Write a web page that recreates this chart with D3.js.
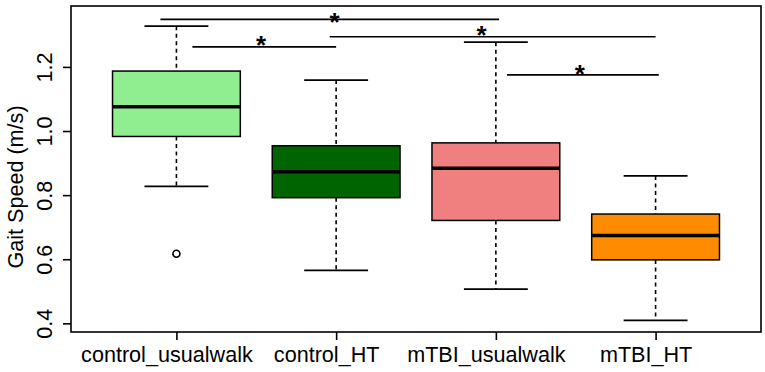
<!DOCTYPE html>
<html>
<head>
<meta charset="utf-8">
<script src="https://cdn.jsdelivr.net/npm/d3@7"></script>
<style>
  body { margin: 0; background: #fff; }
  svg { font-family: "Liberation Sans", Arial, sans-serif; }
</style>
</head>
<body>
<div id="chart"></div>
<script>
// box stats
var groups = ["control_usualwalk", "control_HT", "mTBI_usualwalk", "mTBI_HT"];
var fills = ["#90EE90", "#006400", "#F08080", "#FF8C00"];
var lowerWhisker = [0.827, 0.565, 0.507, 0.409];
var q1 = [0.983, 0.792, 0.721, 0.598];
var median = [1.076, 0.873, 0.884, 0.674];
var q3 = [1.187, 0.954, 0.963, 0.741];
var upperWhisker = [1.327, 1.159, 1.277, 0.86];
var outliers = [{ group: 1, value: 0.617 }];

var yTicks = [0.4, 0.6, 0.8, 1.0, 1.2];

// significance brackets (x in group units, y in m/s)
var sigFrom = [0.9, 1.1, 1.96, 3.07];
var sigTo = [3.02, 2.0, 4.0, 4.02];
var sigY = [1.348, 1.2625, 1.294, 1.175];
var starX = [1.99, 1.53, 2.91, 3.525];
var starY = [1.36, 1.287, 1.318, 1.196];

function chart() {
  var width = 765,
    height = 372;
  var plot = { left: 71, right: 761, top: 6, bottom: 332 };

  var svg = d3
    .select("#chart")
    .append("svg")
    .attr("width", width)
    .attr("height", height);

  var x = d3.scaleLinear().domain([0.34, 4.66]).range([plot.left, plot.right]);
  var y = d3.scaleLinear().domain([0.373, 1.39]).range([plot.bottom, plot.top]);

  var boxW = x(1.4) - x(1);
  var capW = x(1.2) - x(1);

  var boxes = groups.map(function (g, i) {
    return {
      name: g,
      pos: i + 1,
      fill: fills[i],
      lo: lowerWhisker[i],
      q1: q1[i],
      med: median[i],
      q3: q3[i],
      hi: upperWhisker[i],
    };
  });

  var g = svg.selectAll(".box").data(boxes).enter().append("g").attr("class", "box");

  // dashed whiskers
  g.append("line")
    .attr("x1", (d) => x(d.pos))
    .attr("x2", (d) => x(d.pos))
    .attr("y1", (d) => y(d.hi))
    .attr("y2", (d) => y(d.q3))
    .attr("stroke", "black")
    .attr("stroke-width", 1.6)
    .attr("stroke-dasharray", "4,3.5");
  g.append("line")
    .attr("x1", (d) => x(d.pos))
    .attr("x2", (d) => x(d.pos))
    .attr("y1", (d) => y(d.q1))
    .attr("y2", (d) => y(d.lo))
    .attr("stroke", "black")
    .attr("stroke-width", 1.6)
    .attr("stroke-dasharray", "4,3.5");

  // caps
  ["lo", "hi"].forEach(function (k) {
    g.append("line")
      .attr("x1", (d) => x(d.pos) - capW)
      .attr("x2", (d) => x(d.pos) + capW)
      .attr("y1", (d) => y(d[k]))
      .attr("y2", (d) => y(d[k]))
      .attr("stroke", "black")
      .attr("stroke-width", 1.7);
  });

  g.append("rect")
    .attr("x", (d) => x(d.pos) - boxW)
    .attr("y", (d) => y(d.q3))
    .attr("width", boxW * 2)
    .attr("height", (d) => y(d.q1) - y(d.q3))
    .attr("fill", (d) => d.fill)
    .attr("stroke", "black")
    .attr("stroke-width", 1.5);

  g.append("line")
    .attr("x1", (d) => x(d.pos) - boxW)
    .attr("x2", (d) => x(d.pos) + boxW)
    .attr("y1", (d) => y(d.med))
    .attr("y2", (d) => y(d.med))
    .attr("stroke", "black")
    .attr("stroke-width", 3.5);

  svg
    .selectAll(".outlier")
    .data(outliers)
    .enter()
    .append("circle")
    .attr("cx", (d) => x(d.group))
    .attr("cy", (d) => y(d.value))
    .attr("r", 3.5)
    .attr("fill", "none")
    .attr("stroke", "black")
    .attr("stroke-width", 1.6);

  // significance lines and stars
  svg
    .selectAll(".sig")
    .data(sigY)
    .enter()
    .append("line")
    .attr("x1", (d, i) => x(sigFrom[i]))
    .attr("x2", (d, i) => x(sigTo[i]))
    .attr("y1", (d) => y(d))
    .attr("y2", (d) => y(d))
    .attr("stroke", "black")
    .attr("stroke-width", 1.7);

  svg
    .selectAll(".star")
    .data(starY)
    .enter()
    .append("text")
    .attr("x", (d, i) => x(starX[i]))
    .attr("y", (d) => y(d))
    .attr("dy", "0.58em")
    .attr("text-anchor", "middle")
    .style("font-size", "26px")
    .style("font-weight", "bold")
    .text("*");

  // frame
  svg
    .append("rect")
    .attr("x", plot.left)
    .attr("y", plot.top)
    .attr("width", plot.right - plot.left)
    .attr("height", plot.bottom - plot.top)
    .attr("fill", "none")
    .attr("stroke", "black")
    .attr("stroke-width", 1.6);

  // y axis
  var yAxis = svg
    .append("g")
    .attr("transform", "translate(" + plot.left + ",0)")
    .call(d3.axisLeft(y).tickValues(yTicks).tickSize(8).tickFormat(d3.format(".1f")));
  yAxis.select(".domain").remove();
  yAxis.selectAll("line").attr("stroke-width", 1.6);
  yAxis
    .selectAll("text")
    .attr("x", null)
    .attr("dy", null)
    .attr("transform", "translate(-19,0) rotate(-90)")
    .attr("text-anchor", "middle")
    .attr("fill", "black")
    .style("font-size", "21.6px")
    .style("font-family", "Liberation Sans, Arial, sans-serif");

  // x axis
  var xAxis = svg
    .append("g")
    .attr("transform", "translate(0," + plot.bottom + ")")
    .call(
      d3
        .axisBottom(x)
        .tickValues([1, 2, 3, 4])
        .tickSize(8)
        .tickFormat((d) => groups[d - 1])
    );
  xAxis.select(".domain").remove();
  xAxis.selectAll("line").attr("stroke-width", 1.6);
  xAxis
    .selectAll("text")
    .attr("y", 30)
    .attr("dy", null)
    .attr("dx", -10)
    .attr("fill", "black")
    .style("font-size", "21.6px")
    .style("font-family", "Liberation Sans, Arial, sans-serif");

  svg
    .append("text")
    .attr("transform", "translate(22.5,187) rotate(-90)")
    .attr("text-anchor", "middle")
    .style("font-size", "21.6px")
    .text("Gait Speed (m/s)");
}

chart();
</script>
</body>
</html>
